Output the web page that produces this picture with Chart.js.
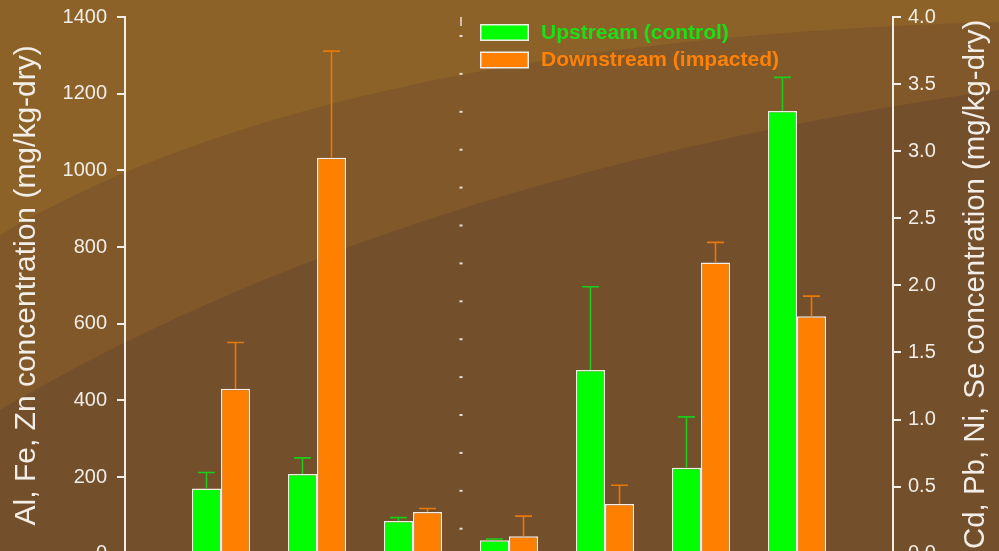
<!DOCTYPE html>
<html><head><meta charset="utf-8">
<script src="https://cdn.jsdelivr.net/npm/chart.js@4/dist/chart.umd.min.js"></script>
<style>
html,body{margin:0;padding:0;overflow:hidden;background:#744F2C;width:999px;height:551px}
#wrap{position:absolute;left:0;top:0;width:999px;height:600px}
</style>
</head><body><div id="wrap"><canvas id="c" width="999" height="600"></canvas></div>
<script>
// ---- data ----
const categories = ['', 'Al', 'Fe', 'Zn', 'Cd', 'Pb', 'Ni', 'Se', ''];
const upstreamMain      = [null, 170, 208, 85, null, null, null, null, null];
const upstreamMainErr   = [null, 42, 42, 9, null, null, null, null, null];
const downstreamMain    = [null, 430, 1033, 109, null, null, null, null, null];
const downstreamMainErr = [null, 121, 278, 9, null, null, null, null, null];
const upstreamTrace      = [null, null, null, null, 0.10, 1.37, 0.64, 3.30, null];
const upstreamTraceErr   = [null, null, null, null, 0.01, 0.62, 0.38, 0.25, null];
const downstreamTrace    = [null, null, null, null, 0.13, 0.37, 2.17, 1.77, null];
const downstreamTraceErr = [null, null, null, null, 0.15, 0.14, 0.15, 0.15, null];
const seriesNames = ['Upstream (control)', 'Downstream (impacted)'];
const leftTitle = 'Al, Fe, Zn concentration (mg/kg-dry)';
const rightTitle = 'Cd, Pb, Ni, Se concentration (mg/kg-dry)';

const GREEN = '#00ff00', ORANGE = '#ff8000';
const GREEN_ERR = '#1ccc1c', ORANGE_ERR = '#e8780a';
const WHITE = '#f2ede6';
const FONT = '"Liberation Sans", Arial, sans-serif';

const bgPlugin = {
  id: 'bg',
  beforeDraw(chart) {
    const ctx = chart.ctx, w = chart.width, h = chart.height;
    ctx.save();
    ctx.fillStyle = '#744F2C';
    ctx.fillRect(0, 0, w, h);
    ctx.fillStyle = '#815829';
    ctx.beginPath();
    ctx.moveTo(0, 0); ctx.lineTo(0, 410);
    ctx.quadraticCurveTo(400, 175, 999, 90);
    ctx.lineTo(999, 0); ctx.closePath(); ctx.fill();
    ctx.fillStyle = '#8C6228';
    ctx.beginPath();
    ctx.moveTo(0, 0); ctx.lineTo(0, 235);
    ctx.quadraticCurveTo(330, 40, 999, 22);
    ctx.lineTo(999, 0); ctx.closePath(); ctx.fill();
    ctx.restore();
  }
};

const errPlugin = {
  id: 'errbars',
  afterDatasetsDraw(chart) {
    const ctx = chart.ctx;
    chart.data.datasets.forEach((ds, i) => {
      const meta = chart.getDatasetMeta(i);
      const ys = chart.scales[ds.yAxisID];
      meta.data.forEach((bar, j) => {
        const v = ds.data[j], e = ds.errs[j];
        if (v == null || e == null) return;
        const yt = ys.getPixelForValue(v + e);
        ctx.save();
        ctx.strokeStyle = ds.errColor;
        ctx.lineWidth = 1.6;
        ctx.beginPath();
        ctx.moveTo(bar.x, bar.y); ctx.lineTo(bar.x, yt);
        ctx.moveTo(bar.x - 8.5, yt); ctx.lineTo(bar.x + 8.5, yt);
        ctx.stroke();
        ctx.restore();
      });
    });
  }
};

const decoPlugin = {
  id: 'deco',
  afterDraw(chart) {
    const ctx = chart.ctx, a = chart.chartArea, xs = chart.scales.x;
    ctx.save();
    // divider between the two groups
    const xd = (xs.getPixelForValue(3) + xs.getPixelForValue(4)) / 2;
    ctx.fillStyle = '#e6ded4';
    ctx.fillRect(xd - 0.75, a.top, 1.5, 9);
    for (let y = a.top + 18; y < a.bottom - 10; y += 37.9) ctx.fillRect(xd - 1.5, y, 3, 2);
    // legend
    const items = [[seriesNames[0], GREEN, '#19e019'], [seriesNames[1], ORANGE, '#ff8208']];
    items.forEach((it, k) => {
      const y0 = 24 + k * 27.5;
      ctx.fillStyle = WHITE;
      ctx.fillRect(480, y0, 49, 17);
      ctx.fillStyle = it[1];
      ctx.fillRect(481.5, y0 + 1.5, 46, 14);
      ctx.fillStyle = it[2];
      ctx.font = 'bold 21px ' + FONT;
      ctx.textBaseline = 'middle';
      ctx.textAlign = 'left';
      ctx.fillText(it[0], 541, y0 + 9);
    });
    // axis titles (both read bottom-to-top)
    const cy = (a.top + a.bottom) / 2;
    ctx.fillStyle = WHITE;
    ctx.textAlign = 'center';
    ctx.textBaseline = 'alphabetic';
    ctx.font = '30px ' + FONT;
    ctx.save(); ctx.translate(35, cy); ctx.rotate(-Math.PI / 2); ctx.fillText(leftTitle, 0, 0); ctx.restore();
    ctx.font = '29.4px ' + FONT;
    ctx.save(); ctx.translate(984, cy - 1); ctx.rotate(-Math.PI / 2); ctx.fillText(rightTitle, 0, 0); ctx.restore();
    ctx.restore();
  }
};

const barBase = { borderColor: WHITE, borderWidth: 1.5, borderSkipped: 'start' };

function fixVertical(width) {
  return function (s) { s.width = width; s.paddingTop = 0; s.paddingBottom = 0; };
}

new Chart(document.getElementById('c'), {
  type: 'bar',
  data: {
    labels: categories,
    datasets: [
      Object.assign({ label: seriesNames[0], data: upstreamMain, errs: upstreamMainErr, errColor: GREEN_ERR, backgroundColor: GREEN, yAxisID: 'yL' }, barBase),
      Object.assign({ label: seriesNames[1], data: downstreamMain, errs: downstreamMainErr, errColor: ORANGE_ERR, backgroundColor: ORANGE, yAxisID: 'yL' }, barBase),
      Object.assign({ label: seriesNames[0], data: upstreamTrace, errs: upstreamTraceErr, errColor: GREEN_ERR, backgroundColor: GREEN, yAxisID: 'yR' }, barBase),
      Object.assign({ label: seriesNames[1], data: downstreamTrace, errs: downstreamTraceErr, errColor: ORANGE_ERR, backgroundColor: ORANGE, yAxisID: 'yR' }, barBase)
    ]
  },
  options: {
    responsive: false,
    devicePixelRatio: 1,
    animation: false,
    skipNull: true,
    categoryPercentage: 0.605,
    barPercentage: 1.0,
    layout: { padding: { top: 17, left: 0, right: 0, bottom: 0 } },
    plugins: { legend: { display: false }, tooltip: { enabled: false } },
    scales: {
      x: {
        type: 'category',
        offset: false,
        grid: { display: false },
        ticks: { display: false },
        border: { display: true, color: WHITE, width: 2 },
        afterFit(s) { s.height = 46.3; s.paddingLeft = 0; s.paddingRight = 0; }
      },
      yL: {
        position: 'left',
        min: 0, max: 1400,
        ticks: { stepSize: 200, color: WHITE, font: { family: FONT, size: 20 }, padding: 10, callback: v => String(v) },
        grid: { drawOnChartArea: false, drawTicks: true, tickLength: 8, color: WHITE, lineWidth: 2 },
        border: { display: true, color: WHITE, width: 2 },
        afterFit: fixVertical(125)
      },
      yR: {
        position: 'right',
        min: 0, max: 4,
        ticks: { stepSize: 0.5, color: WHITE, font: { family: FONT, size: 20 }, padding: 7, callback: v => Number(v).toFixed(1) },
        grid: { drawOnChartArea: false, drawTicks: true, tickLength: 8, color: WHITE, lineWidth: 2 },
        border: { display: true, color: WHITE, width: 2 },
        afterFit: fixVertical(106)
      }
    }
  },
  plugins: [bgPlugin, errPlugin, decoPlugin]
});
</script>
</body></html>
